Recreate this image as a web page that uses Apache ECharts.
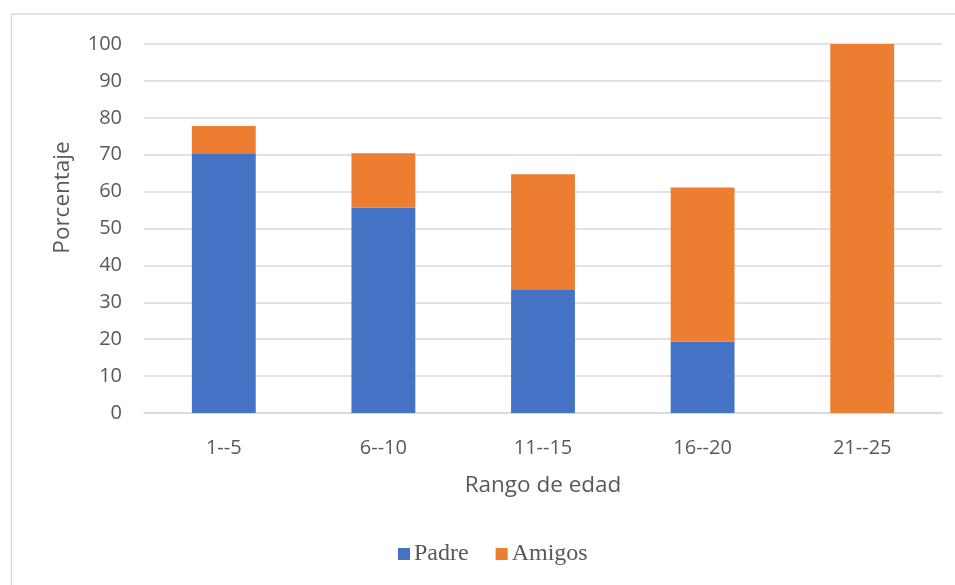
<!DOCTYPE html>
<html><head><meta charset="utf-8">
<script src="https://cdn.jsdelivr.net/npm/echarts@6/dist/echarts.min.js"></script>
<style>html,body{margin:0;padding:0;background:#fff}#c{width:955px;height:585px}</style>
</head><body><div id="c"></div>
<script>
const categories = ['1--5','6--10','11--15','16--20','21--25'];
const padre = [70.4, 55.6, 33.3, 19.4, 0];
const amigos = [7.4, 14.8, 31.4, 41.7, 100];
const yTicks = [0,10,20,30,40,50,60,70,80,90,100];

const chart = echarts.init(document.getElementById('c'), null, {renderer:'canvas'});
chart.setOption({
  animation:false,
  backgroundColor:'#fff',
  graphic:[{type:'rect',shape:{x:11.5,y:14,width:960,height:600},style:{fill:'none',stroke:'#d9d9d9',lineWidth:1.5},silent:true,z:-1}],
  grid:{left:144,right:13,top:44,bottom:172,containLabel:false},
  legend:{
    data:['Padre','Amigos'],
    bottom:14,left:393,
    itemWidth:12,itemHeight:12,itemGap:27,
    icon:'rect',
    textStyle:{fontFamily:'Liberation Serif, Times New Roman, serif',fontSize:24,color:'#595959',padding:[0,0,0,-1]}
  },
  xAxis:{
    type:'category',data:categories,
    name:'Rango de edad',nameLocation:'middle',nameGap:61,
    nameTextStyle:{fontFamily:'Open Sans, sans-serif',fontSize:22.5,color:'#595959'},
    axisLine:{show:true,lineStyle:{color:'#d9d9d9',width:1.5}},
    axisTick:{show:false},
    axisLabel:{fontFamily:'Open Sans, sans-serif',fontSize:20,color:'#595959',margin:25}
  },
  yAxis:{
    type:'value',min:0,max:100,interval:10,
    name:'Porcentaje',nameLocation:'middle',nameGap:70,
    nameTextStyle:{fontFamily:'Open Sans, sans-serif',fontSize:22.5,color:'#595959',padding:[0,0,0,62]},
    axisLine:{show:false},axisTick:{show:false},
    splitLine:{lineStyle:{color:'#d9d9d9',width:1.5}},
    axisLabel:{fontFamily:'Open Sans, sans-serif',fontSize:20,color:'#595959',margin:22,
      formatter:v=>yTicks.includes(v)?String(v):''}
  },
  series:[
    {name:'Padre',type:'bar',stack:'t',data:padre,barWidth:'40%',itemStyle:{color:'#4472c4'}},
    {name:'Amigos',type:'bar',stack:'t',data:amigos,barWidth:'40%',itemStyle:{color:'#ed7d31'}}
  ]
});
</script></body></html>
